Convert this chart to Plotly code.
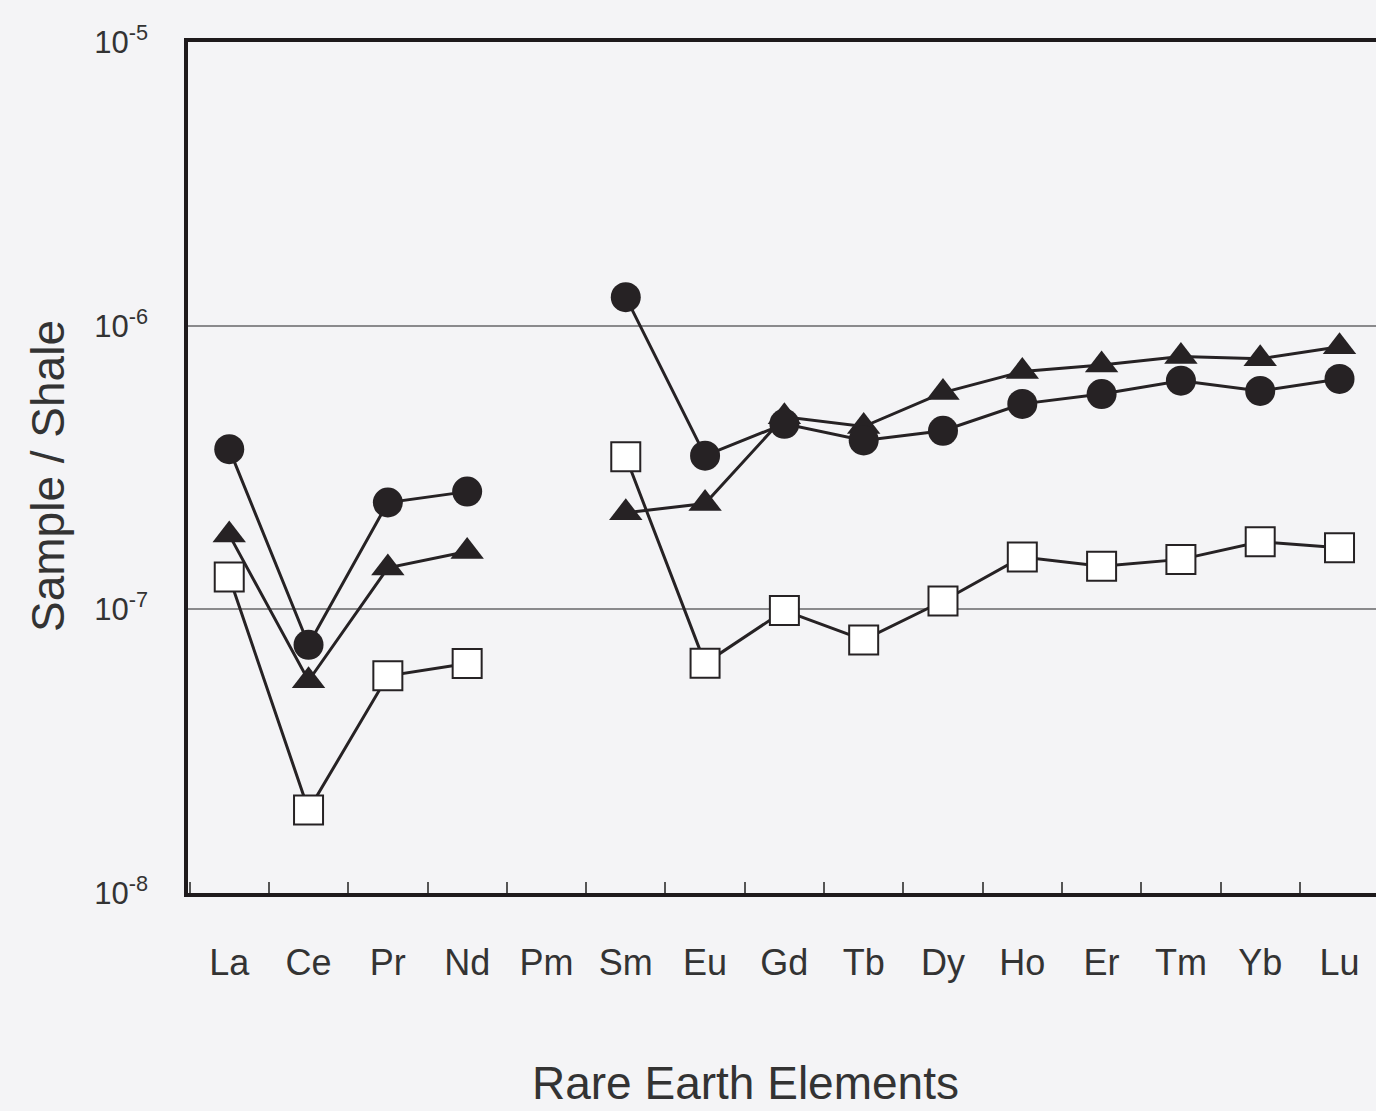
import plotly.graph_objects as go

# Rare earth elements, shale-normalised
elements = ["La", "Ce", "Pr", "Nd", "Pm", "Sm", "Eu", "Gd", "Tb", "Dy",
            "Ho", "Er", "Tm", "Yb", "Lu"]

# Sample series (None = not measured, Pm)
series_circle = [3.67e-7, 7.5e-8, 2.38e-7, 2.60e-7, None, 1.26e-6, 3.48e-7,
                 4.51e-7, 3.94e-7, 4.26e-7, 5.30e-7, 5.74e-7, 6.40e-7,
                 5.89e-7, 6.49e-7]
series_triangle = [1.83e-7, 5.6e-8, 1.40e-7, 1.60e-7, None, 2.19e-7, 2.36e-7,
                   4.77e-7, 4.41e-7, 5.81e-7, 6.89e-7, 7.26e-7, 7.78e-7,
                   7.64e-7, 8.43e-7]
series_square = [1.30e-7, 1.96e-8, 5.83e-8, 6.44e-8, None, 3.45e-7, 6.45e-8,
                 9.9e-8, 7.8e-8, 1.07e-7, 1.53e-7, 1.42e-7, 1.50e-7,
                 1.73e-7, 1.65e-7]

y_tick_vals = [1e-8, 1e-7, 1e-6, 1e-5]
y_tick_text = ["10<sup>-8</sup>", "10<sup>-7</sup>", "10<sup>-6</sup>", "10<sup>-5</sup>"]

INK = "#262224"
LINE_W = 3
BG = "#f4f4f6"
FONT = "Liberation Sans, Arial, sans-serif"

fig = go.Figure()

fig.add_trace(go.Scatter(
    x=elements, y=series_square, mode="lines+markers",
    line=dict(color=INK, width=LINE_W),
    marker=dict(symbol="square", size=29, color="white",
                line=dict(color=INK, width=2)),
    showlegend=False))

fig.add_trace(go.Scatter(
    x=elements, y=series_triangle, mode="lines+markers",
    line=dict(color=INK, width=LINE_W),
    marker=dict(symbol="triangle-up", size=29, color=INK,
                line=dict(width=0)),
    showlegend=False))

fig.add_trace(go.Scatter(
    x=elements, y=series_circle, mode="lines+markers",
    line=dict(color=INK, width=LINE_W),
    marker=dict(symbol="circle", size=30, color=INK,
                line=dict(width=0)),
    showlegend=False))

fig.update_layout(
    width=1376, height=1111,
    margin=dict(l=188, r=0, t=42, b=218),
    paper_bgcolor=BG, plot_bgcolor=BG,
    font=dict(family=FONT, color="#333333"),
    xaxis=dict(
        type="category",
        categoryorder="array", categoryarray=elements,
        range=[-0.52, 14.46],
        tickson="boundaries",
        ticks="inside", ticklen=11, tickwidth=1.5, tickcolor="#555555",
        showgrid=False,
        showline=True, linecolor="#1e1a1c", linewidth=3.5, mirror=True,
        tickfont=dict(size=36, color="#333333"),
        ticklabelstandoff=35,
    ),
    yaxis=dict(
        type="log",
        range=[-8, -5],
        tickvals=y_tick_vals, ticktext=y_tick_text,
        ticks="",
        showgrid=True, gridcolor="#8a8a8c", gridwidth=1.5,
        showline=True, linecolor="#1e1a1c", linewidth=3.5, mirror=False,
        tickfont=dict(size=31, color="#333333"),
        ticklabelstandoff=30,
        zeroline=False,
    ),
    annotations=[
        dict(text="Rare Earth Elements", xref="paper", yref="paper",
             x=(745 - 188) / (1376 - 188), y=-(1083 - 893) / (893 - 42),
             xanchor="center", yanchor="middle", showarrow=False,
             font=dict(size=46, color="#333333", family=FONT)),
        dict(text="Sample / Shale", xref="paper", yref="paper",
             x=-(188 - 48) / (1376 - 188), y=(893 - 476) / (893 - 42),
             xanchor="center", yanchor="middle", showarrow=False,
             textangle=-90,
             font=dict(size=46, color="#333333", family=FONT)),
    ],
)

fig.write_html("out.html")
